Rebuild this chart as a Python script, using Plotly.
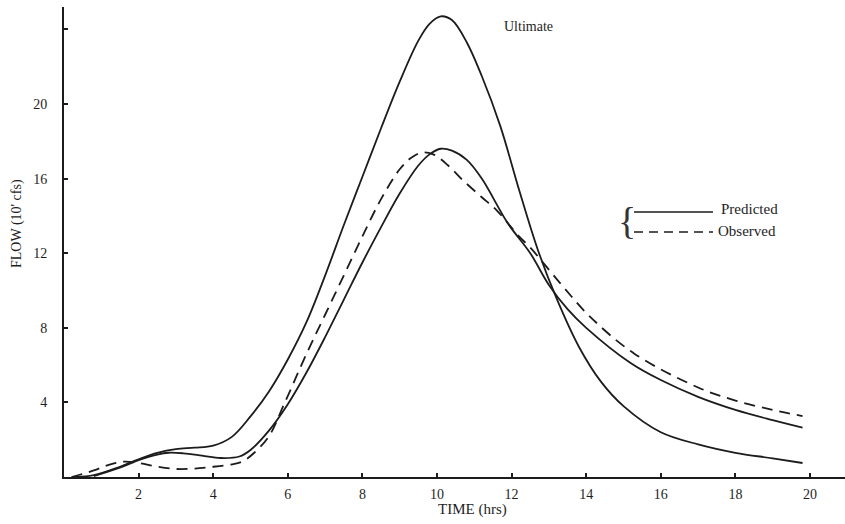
import plotly.graph_objects as go

# ---- data ----
time_ultimate = [0.3, 0.8, 1.5, 2.0, 2.5, 3.0, 3.5, 4.0, 4.5, 5.0, 5.5, 6.0, 6.5, 7.0, 7.5,
                 8.0, 8.5, 9.0, 9.5, 9.8, 10.1, 10.4, 10.8, 11.2, 11.7, 12.2, 12.7, 13.2,
                 13.8, 14.4, 15.0, 16.0, 17.0, 18.0, 19.0, 19.8]
flow_ultimate = [0.0, 0.1, 0.55, 0.95, 1.3, 1.5, 1.57, 1.68, 2.15, 3.25, 4.6, 6.3, 8.3, 10.8, 13.5,
                 16.1, 18.7, 21.2, 23.4, 24.3, 24.7, 24.5, 23.3, 21.5, 18.8, 15.4, 12.2, 9.6,
                 7.0, 5.1, 3.8, 2.4, 1.75, 1.3, 1.0, 0.75]

time_predicted = [0.8, 1.5, 2.0, 2.5, 2.8, 3.2, 3.7, 4.2, 4.7, 5.0, 5.5, 6.0, 6.5, 7.0, 7.5,
                  8.0, 8.5, 9.0, 9.5, 9.8, 10.1, 10.4, 10.8, 11.2, 11.9, 12.5, 13.0, 13.5,
                  14.0, 15.2, 16.0, 17.0, 18.0, 19.0, 19.8]
flow_predicted = [0.05, 0.5, 0.9, 1.2, 1.3, 1.27, 1.15, 1.02, 1.1, 1.45, 2.5, 3.9, 5.6, 7.5, 9.5,
                  11.5, 13.4, 15.2, 16.7, 17.3, 17.6, 17.5, 17.0, 16.0, 13.6, 12.0, 10.3, 9.0,
                  8.0, 6.1, 5.2, 4.3, 3.6, 3.05, 2.65]

time_observed = [0.2, 0.8, 1.2, 1.6, 2.0, 2.5, 3.0, 3.5, 4.0, 4.5, 4.8, 5.1, 5.5, 5.9, 6.5,
                 7.0, 7.5, 8.0, 8.5, 9.0, 9.3, 9.6, 9.9, 10.3, 10.7, 11.2, 11.6, 12.2, 12.5,
                 13.3, 14.1, 15.3, 17.0, 18.0, 19.0, 19.8]
flow_observed = [0.0, 0.35, 0.65, 0.82, 0.75, 0.55, 0.43, 0.45, 0.55, 0.68, 0.85, 1.3, 2.2, 3.9, 6.6,
                 8.7, 10.8, 12.9, 14.9, 16.5, 17.1, 17.4, 17.3, 16.7, 15.9, 15.0, 14.3, 12.9, 12.3,
                 10.4, 8.6, 6.6, 4.8, 4.1, 3.6, 3.27]

x_tick_vals = [2, 4, 6, 8, 10, 12, 14, 16, 18, 20]
y_tick_vals = [4, 8, 12, 16, 20, 24]
y_tick_text = ["4", "8", "12", "16", "20", ""]

# ---- figure ----
W, H = 845, 524
L, R, T, B = 64, 0, 7, 47
pw, ph = W - L - R, H - T - B


def px(xp):
    return (xp - L) / pw


def py(yp):
    return (H - B - yp) / ph


INK = "#1c1c1c"
TXT = "#1e1e1e"
FONT = "Liberation Serif"
SM = 1.0

fig = go.Figure()
fig.add_trace(go.Scatter(x=time_ultimate, y=flow_ultimate, mode="lines", name="Ultimate",
                         line=dict(color=INK, width=1.8, shape="spline", smoothing=SM)))
fig.add_trace(go.Scatter(x=time_predicted, y=flow_predicted, mode="lines", name="Predicted",
                         line=dict(color=INK, width=1.8, shape="spline", smoothing=SM)))
fig.add_trace(go.Scatter(x=time_observed, y=flow_observed, mode="lines", name="Observed",
                         line=dict(color=INK, width=1.8, shape="spline", smoothing=SM,
                                   dash="11px,7px")))

fig.update_layout(
    width=W, height=H,
    margin=dict(l=L, r=R, t=T, b=B, pad=0),
    paper_bgcolor="white", plot_bgcolor="white",
    showlegend=False,
    font=dict(family=FONT, color=TXT, size=14),
    xaxis=dict(range=[0, pw / 37.3], tickvals=x_tick_vals, ticks="inside", ticklen=4,
               tickwidth=1.5, tickcolor=INK, showline=True, linecolor=INK, linewidth=2,
               showgrid=False, zeroline=False, tickfont=dict(size=14, family=FONT, color=TXT),
               ticklabelstandoff=3),
    yaxis=dict(range=[0, ph / 18.65], tickvals=y_tick_vals, ticktext=y_tick_text,
               ticks="inside", ticklen=4, tickwidth=1.5, tickcolor=INK,
               showline=True, linecolor=INK, linewidth=2, showgrid=False, zeroline=False,
               tickfont=dict(size=14, family=FONT, color=TXT), ticklabelstandoff=12),
)

annotations = [
    dict(text="TIME (hrs)", x=px(472), y=py(510), xref="paper", yref="paper",
         showarrow=False, font=dict(size=15, family=FONT, color=TXT),
         xanchor="center", yanchor="middle"),
    dict(text="FLOW (10' cfs)", x=px(17), y=py(224), xref="paper", yref="paper",
         showarrow=False, textangle=-90, font=dict(size=14, family=FONT, color=TXT),
         xanchor="center", yanchor="middle"),
    dict(text="Ultimate", x=px(502), y=py(27), xref="paper", yref="paper",
         showarrow=False, font=dict(size=14, family=FONT, color=TXT),
         xanchor="left", yanchor="middle"),
    dict(text="Predicted", x=px(719), y=py(209), xref="paper", yref="paper",
         showarrow=False, font=dict(size=15, family=FONT, color=TXT),
         xanchor="left", yanchor="middle"),
    dict(text="Observed", x=px(716), y=py(231), xref="paper", yref="paper",
         showarrow=False, font=dict(size=15, family=FONT, color=TXT),
         xanchor="left", yanchor="middle"),
    dict(text="{", x=px(627), y=py(221), xref="paper", yref="paper",
         showarrow=False, font=dict(size=38, family=FONT, color="#333"),
         xanchor="center", yanchor="middle"),
]
fig.update_layout(annotations=annotations)

fig.add_shape(type="line", xref="paper", yref="paper", x0=px(634), x1=px(713),
              y0=py(212), y1=py(212), line=dict(color=INK, width=1.3))
fig.add_shape(type="line", xref="paper", yref="paper", x0=px(634), x1=px(713),
              y0=py(232), y1=py(232), line=dict(color=INK, width=1.3, dash="9px,6px"))

fig.write_html("out.html", config={"displayModeBar": False},
               post_script="document.body.style.margin='0';")
